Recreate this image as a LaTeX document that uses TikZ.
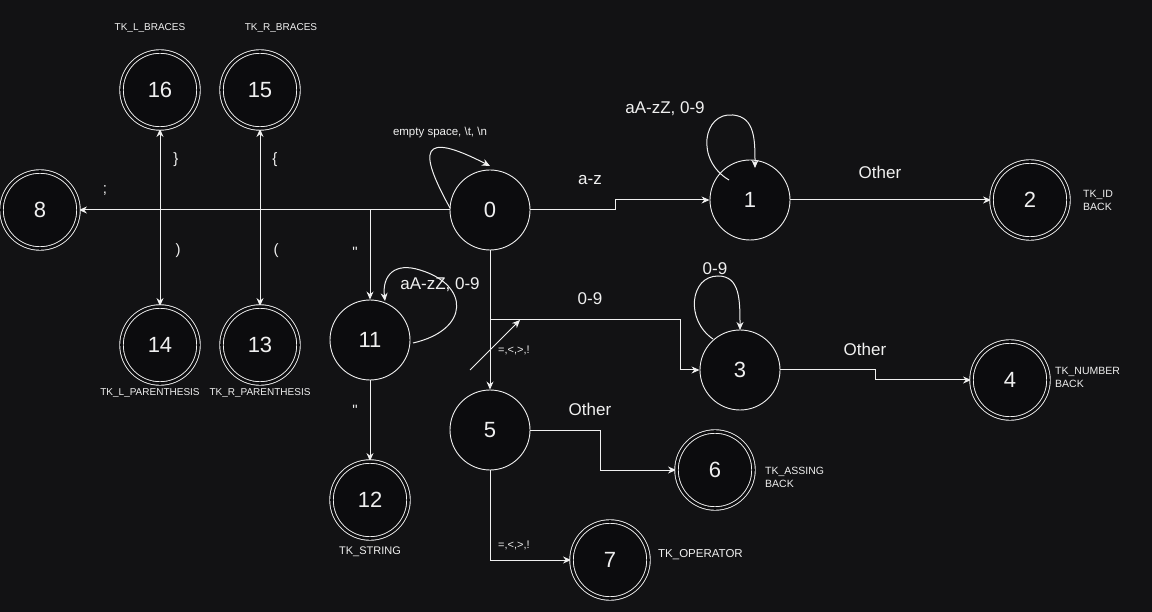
\documentclass[tikz,border=0pt]{standalone}
\usepackage{fontspec}
\setmainfont{Liberation Sans}
\newfontfamily\plainsans[Ligatures=NoCommon]{Liberation Sans}
\usetikzlibrary{arrows.meta}
\definecolor{bg}{RGB}{18,18,20}
\definecolor{nodefill}{RGB}{12,12,14}
\definecolor{fg}{RGB}{240,240,240}
\tikzset{
  state/.style={circle,draw=fg,fill=nodefill,line width=0.9pt,minimum size=80pt,inner sep=0pt,text=fg,font=\fontsize{22}{24}\selectfont},
  accept/.style={state,double=nodefill,double distance=2.6pt,minimum size=77pt},
  edge/.style={draw=fg,line width=1pt,-{Stealth[length=8pt,width=7pt]}},
  biedge/.style={draw=fg,line width=1pt,{Stealth[length=8pt,width=7pt]}-{Stealth[length=8pt,width=7pt]}},
  lbl/.style={text=fg,font=\fontsize{17}{19}\selectfont,inner sep=0pt},
  small/.style={text=fg,font=\fontsize{10}{12}\selectfont,inner sep=0pt},
  sym/.style={text=fg,font=\fontsize{15}{17}\selectfont,inner sep=0pt},
  tok/.style={text=fg,font=\fontsize{10.5}{13}\selectfont,inner sep=0pt,align=left}
}
\begin{document}
\begin{tikzpicture}[x=1pt,y=-1pt]
\fill[bg] (0,0) rectangle (1152,612);
\useasboundingbox (0,0) rectangle (1152,612);

% states
\node[state]  (s0)  at (490,210) {0};
\node[state]  (s1)  at (750,200) {1};
\node[accept] (s2)  at (1030,200) {2};
\node[state]  (s3)  at (740,370) {3};
\node[accept] (s4)  at (1010,380) {4};
\node[state]  (s5)  at (490,430) {5};
\node[accept] (s6)  at (715,470) {6};
\node[accept] (s7)  at (610,560) {7};
\node[accept] (s8)  at (40,210) {8};
\node[state]  (s11) at (370,340) {11};
\node[accept] (s12) at (370,500) {12};
\node[accept] (s13) at (260,345) {13};
\node[accept] (s14) at (160,345) {14};
\node[accept] (s15) at (260,90) {15};
\node[accept] (s16) at (160,90) {16};

% helper coordinates
\coordinate (j11) at (370,210);
\coordinate (j3)  at (490,320);

% 0 -> 8 and branches
\draw[edge] (s0.west) -- (s8.east);
\draw[biedge] (s16.south) -- (s14.north);
\draw[biedge] (s15.south) -- (s13.north);
\draw[edge] (j11) -- (s11.north);

% self loop on 0
\draw[edge] (450,208) .. controls (418,150) and (420,130) .. (490,166);
% 0 -> 1
\draw[edge] (s0.east) -- (615,210) -- (615,200) -- (s1.west);
% loop on 1
\draw[edge] (729,180) .. controls (695,160) and (703,112) .. (733,115) .. controls (755,117) and (755,140) .. (755,168);
% 1 -> 2
\draw[edge] (s1.east) -- (s2.west);
% 0 -> 5
\draw[edge] (s0.south) -- (s5.north);
% 0 -> 3
\draw[edge] (j3) -- (680,320) -- (680,370) -- (s3.west);
% loop on 3
\draw[edge] (713,339) .. controls (685,320) and (690,276) .. (718,276) .. controls (740,276) and (740,300) .. (740,330);
% 3 -> 4
\draw[edge] (s3.east) -- (875,370) -- (875,380) -- (s4.west);
% 5 -> 6
\draw[edge] (s5.east) -- (600,430) -- (600,470) -- (s6.west);
% 5 -> 7
\draw[edge] (s5.south) -- (490,560) -- (s7.west);
% loop on 11
\draw[edge] (413,343) .. controls (470,330) and (470,285) .. (420,270) .. controls (395,262) and (382,275) .. (385,301);
% 11 -> 12
\draw[edge] (s11.south) -- (s12.north);
% stray diagonal arrow
\coordinate (d0) at (470,370);
\coordinate (d1) at (520,320);
\draw[edge] (d0) -- (d1);

% edge labels
\node[sym] (l8)  at (105,190) {;};
\node[sym] (l16) at (176,160) {\}};
\node[sym] (l15) at (275,160) {\{};
\node[sym] (l14) at (178,251) {)};
\node[sym] (l13) at (276,251) {(};
\node[sym] (l11) at (355,252) {\plainsans "};
\node[sym] (l12) at (355,410) {\plainsans "};
\node[lbl] (la)  at (590,180) {a-z};
\node[lbl] (lb)  at (665,109) {aA-zZ, 0-9};
\node[lbl] (lc)  at (880,172) {Other};
\node[lbl] (ld)  at (590,299) {0-9};
\node[lbl] (le)  at (715,269) {0-9};
\node[lbl] (lf)  at (865,349) {Other};
\node[lbl] (lg)  at (590,409) {Other};
\node[lbl] (lh)  at (440,285) {aA-zZ, 0-9};
\node[small,font=\fontsize{11.5}{13}\selectfont] (li) at (440,133) {empty space, \textbackslash t, \textbackslash n};
\node[small,font=\fontsize{11}{13}\selectfont,anchor=west] (lj) at (498,350) {=,<,>,!};
\node[small,font=\fontsize{11}{13}\selectfont,anchor=west] (lk) at (498,545) {=,<,>,!};

% token labels
\node[small] (t16) at (150,28) {TK\_L\_BRACES};
\node[small] (t15) at (281,28) {TK\_R\_BRACES};
\node[small] (t14) at (150,393) {TK\_L\_PARENTHESIS};
\node[small] (t13) at (260,393) {TK\_R\_PARENTHESIS};
\node[small,font=\fontsize{11}{13}\selectfont] (t12) at (370,552) {TK\_STRING};
\node[tok,anchor=west] (t2) at (1083,200) {TK\_ID\\BACK};
\node[tok,anchor=west] (t4) at (1055,377) {TK\_NUMBER\\BACK};
\node[tok,anchor=west] (t6) at (765,477) {TK\_ASSING\\BACK};
\node[small,font=\fontsize{11.5}{13}\selectfont,anchor=west] (t7) at (658,555) {TK\_OPERATOR};
\end{tikzpicture}
\end{document}
